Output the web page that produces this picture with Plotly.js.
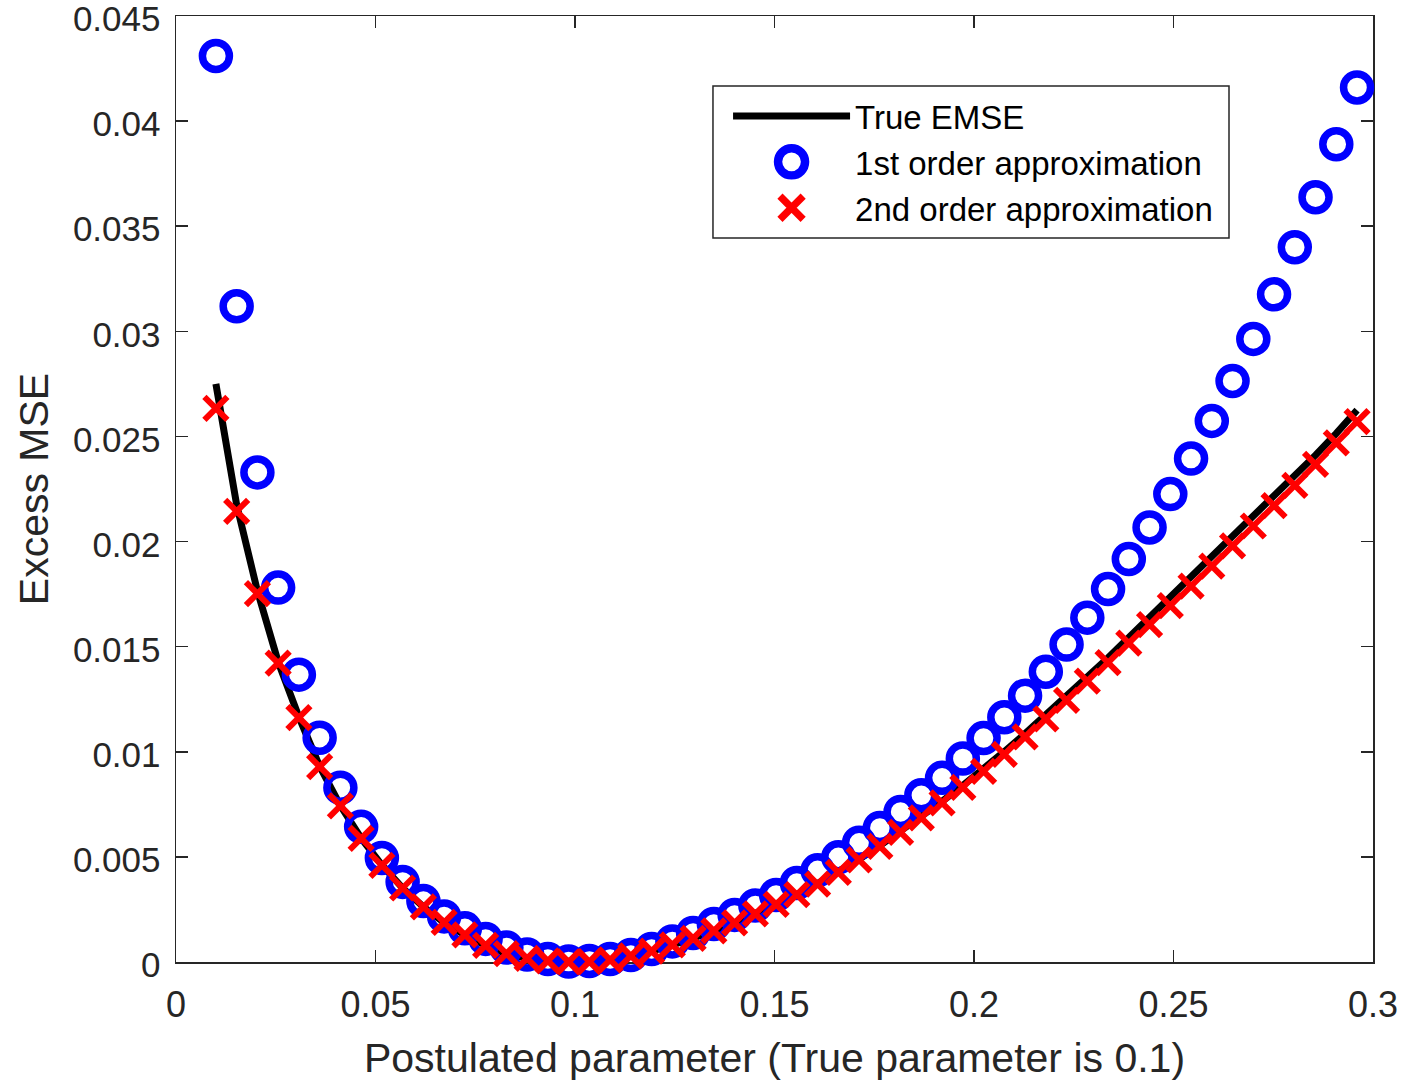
<!DOCTYPE html>
<html>
<head>
<meta charset="utf-8">
<script src="https://cdn.plot.ly/plotly-3.0.1.min.js"></script>
<style>
  html, body { margin: 0; padding: 0; background: #ffffff; }
  #chart { width: 1401px; height: 1081px; }
</style>
</head>
<body>
<div id="chart"></div>
<script>
// Postulated parameter values (x)
var postulated = [0.0100, 0.0152, 0.0204, 0.0256, 0.0308, 0.0360, 0.0412, 0.0464, 0.0516, 0.0568,
  0.0620, 0.0672, 0.0724, 0.0776, 0.0828, 0.0880, 0.0932, 0.0984, 0.1036, 0.1088,
  0.1140, 0.1192, 0.1244, 0.1296, 0.1348, 0.1400, 0.1452, 0.1504, 0.1556, 0.1608,
  0.1660, 0.1712, 0.1764, 0.1816, 0.1868, 0.1920, 0.1972, 0.2024, 0.2076, 0.2128,
  0.2180, 0.2232, 0.2284, 0.2336, 0.2388, 0.2440, 0.2492, 0.2544, 0.2596, 0.2648,
  0.2700, 0.2752, 0.2804, 0.2856, 0.2908, 0.2960];

// True EMSE (black line)
var trueEMSE = [0.02750, 0.02175, 0.01765, 0.01428, 0.01166, 0.00931, 0.00744, 0.00589, 0.00461, 0.00352,
  0.00262, 0.00188, 0.00129, 0.00079, 0.00040, 0.00017, 0.00005, 0.00000, 0.00002, 0.00010,
  0.00029, 0.00052, 0.00081, 0.00112, 0.00148, 0.00186, 0.00229, 0.00275, 0.00322, 0.00373,
  0.00429, 0.00489, 0.00554, 0.00622, 0.00692, 0.00764, 0.00840, 0.00918, 0.01001, 0.01086,
  0.01173, 0.01263, 0.01356, 0.01447, 0.01543, 0.01635, 0.01728, 0.01824, 0.01920, 0.02016,
  0.02113, 0.02211, 0.02310, 0.02411, 0.02515, 0.02625];

// 1st order approximation (blue circles)
var firstOrder = [0.04310, 0.03119, 0.02329, 0.01781, 0.01367, 0.01067, 0.00829, 0.00643, 0.00495, 0.00381,
  0.00290, 0.00217, 0.00160, 0.00110, 0.00069, 0.00036, 0.00014, 0.00002, 0.00005, 0.00014,
  0.00033, 0.00062, 0.00098, 0.00138, 0.00181, 0.00224, 0.00269, 0.00319, 0.00376, 0.00436,
  0.00498, 0.00567, 0.00638, 0.00714, 0.00793, 0.00876, 0.00968, 0.01065, 0.01164, 0.01267,
  0.01381, 0.01510, 0.01638, 0.01774, 0.01917, 0.02067, 0.02226, 0.02395, 0.02574, 0.02764,
  0.02964, 0.03176, 0.03400, 0.03638, 0.03890, 0.04160];

// 2nd order approximation (red crosses)
var secondOrder = [0.02633, 0.02144, 0.01752, 0.01422, 0.01162, 0.00929, 0.00743, 0.00588, 0.00460, 0.00352,
  0.00262, 0.00188, 0.00129, 0.00079, 0.00040, 0.00017, 0.00005, 0.00001, 0.00002, 0.00010,
  0.00029, 0.00052, 0.00081, 0.00112, 0.00148, 0.00186, 0.00229, 0.00274, 0.00321, 0.00371,
  0.00426, 0.00486, 0.00550, 0.00617, 0.00686, 0.00757, 0.00831, 0.00907, 0.00988, 0.01071,
  0.01157, 0.01245, 0.01336, 0.01424, 0.01517, 0.01605, 0.01695, 0.01788, 0.01883, 0.01979,
  0.02074, 0.02171, 0.02267, 0.02367, 0.02469, 0.02571];

var seriesNames = ['True EMSE', '1st order approximation', '2nd order approximation'];

var xTickVals = [0, 0.05, 0.1, 0.15, 0.2, 0.25, 0.3];
var xTickText = ['0', '0.05', '0.1', '0.15', '0.2', '0.25', '0.3'];
var yTickVals = [0, 0.005, 0.01, 0.015, 0.02, 0.025, 0.03, 0.035, 0.04, 0.045];
var yTickText = ['0', '0.005', '0.01', '0.015', '0.02', '0.025', '0.03', '0.035', '0.04', '0.045'];

var FONT = 'Liberation Sans, Arial, Helvetica, sans-serif';
var AXC = '#262626';

var traces = [
  {
    x: postulated, y: trueEMSE, name: seriesNames[0],
    type: 'scatter', mode: 'lines',
    line: { color: '#000000', width: 7 },
    cliponaxis: false
  },
  {
    x: postulated, y: firstOrder, name: seriesNames[1],
    type: 'scatter', mode: 'markers',
    marker: { symbol: 'circle-open', size: 27, color: '#0000ff', line: { width: 7.5, color: '#0000ff' } },
    cliponaxis: false
  },
  {
    x: postulated, y: secondOrder, name: seriesNames[2],
    type: 'scatter', mode: 'markers',
    marker: { symbol: 'x-thin-open', size: 23, color: '#ff0000', line: { width: 6, color: '#ff0000' } },
    cliponaxis: false
  }
];

var axisCommon = {
  showline: true, mirror: 'ticks', linecolor: AXC, linewidth: 1.5,
  ticks: 'inside', ticklen: 12, tickwidth: 1.5, tickcolor: AXC,
  showgrid: false, zeroline: false, layer: 'below traces',
  ticklabeloverflow: 'allow'
};

var layout = {
  width: 1401, height: 1081,
  margin: { l: 176, r: 28, t: 16, b: 119, pad: 0 },
  paper_bgcolor: '#ffffff', plot_bgcolor: '#ffffff',
  showlegend: true,
  xaxis: Object.assign({}, axisCommon, {
    range: [0, 0.3], tickmode: 'array', tickvals: xTickVals, ticktext: xTickText,
    ticklabelstandoff: 10,
    tickfont: { family: FONT, size: 36, color: AXC },
    title: { text: 'Postulated parameter (True parameter is 0.1)', font: { family: FONT, size: 41, color: AXC }, standoff: 20 }
  }),
  yaxis: Object.assign({}, axisCommon, {
    range: [0, 0.045], tickmode: 'array', tickvals: yTickVals, ticktext: yTickText,
    ticklabelstandoff: 7,
    tickfont: { family: FONT, size: 35, color: AXC },
    title: { text: 'Excess MSE', font: { family: FONT, size: 41, color: AXC }, standoff: 11 }
  }),
  legend: {
    x: 0.4612, y: 0.9239, xanchor: 'left', yanchor: 'top',
    bgcolor: 'rgba(0,0,0,0)', borderwidth: 0,
    font: { family: FONT, size: 33, color: '#000000' },
    itemwidth: 117
  },
  shapes: [
    // legend frame
    { type: 'rect', xref: 'paper', yref: 'paper', x0: 0.4486, x1: 0.8797, y0: 0.7653, y1: 0.926,
      layer: 'below', fillcolor: '#ffffff', line: { color: '#262626', width: 1.5 } }
  ]
};

Plotly.newPlot('chart', traces, layout, { displayModeBar: false, staticPlot: true }).then(function (gd) {
  // enlarge legend symbols to match the plotted marker size
  var groups = gd.querySelectorAll('.legend .traces');
  groups.forEach(function (g, i) {
    var pts = g.querySelectorAll('path.scatterpts');
    var s = (i === 1) ? 1.69 : (i === 2 ? 1.45 : 1);
    pts.forEach(function (p) {
      var t = p.getAttribute('transform') || '';
      p.setAttribute('transform', t + ' scale(' + s + ')');
    });
  });
  // nudge y tick labels slightly downward, as in the reference
  gd.querySelectorAll('.ytick text').forEach(function (t) {
    var tr = t.getAttribute('transform') || '';
    t.setAttribute('transform', 'translate(0,3) ' + tr);
  });
});
</script>
</body>
</html>
